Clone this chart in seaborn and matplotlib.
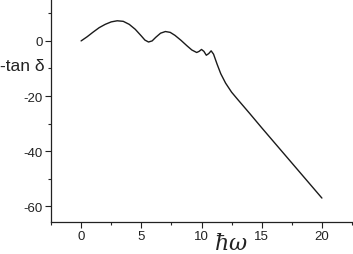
import matplotlib
matplotlib.use("Agg")
import matplotlib.pyplot as plt
import seaborn as sns
import pandas as pd

omega = [0, 0.5, 1, 1.5, 2, 2.5, 3, 3.5, 4, 4.5, 5, 5.3, 5.6, 5.9, 6.2, 6.6,
         7.0, 7.4, 7.8, 8.3, 8.8, 9.2, 9.6, 9.8, 10.0, 10.2, 10.4, 10.6, 10.8,
         11.0, 11.3, 11.6, 12.0, 12.5, 13, 14, 15, 16, 17, 18, 19, 20]
neg_tan = [0, 1.5, 3.2, 4.8, 6.0, 6.9, 7.3, 7.1, 6.0, 4.2, 1.8, 0.3, -0.4, 0.0,
           1.3, 2.8, 3.4, 3.1, 2.0, 0.2, -1.8, -3.3, -4.2, -3.8, -3.1, -3.8,
           -5.2, -4.6, -3.6, -4.8, -8.5, -11.9, -15.3, -18.6, -21.2, -26.3,
           -31.5, -36.6, -41.7, -46.8, -51.9, -57.0]
xticks = [0, 5, 10, 15, 20]
yticks = [0, -20, -40, -60]

df = pd.DataFrame({"w": omega, "t": neg_tan})

sns.set_style("ticks")
plt.rcParams['font.family'] = ['Liberation Sans', 'DejaVu Sans']
plt.rcParams['mathtext.fontset'] = 'dejavuserif'

fig = plt.figure(figsize=(3.53, 2.55), dpi=100)
ax = fig.add_axes([51/353, 1 - 222.5/255, 301/353, 222.5/255])
sns.lineplot(data=df, x="w", y="t", sort=False, color="#1a1a1a", linewidth=1.0, ax=ax)

ax.set_xlim(-2.5, 22.5)
ax.set_ylim(-65.5, 15.2)
ax.set_xticks(xticks)
ax.set_yticks(yticks)
ax.set_xticks([-2.5, 2.5, 7.5, 12.5, 17.5, 22.5], minor=True)
ax.set_yticks([10, -10, -30, -50], minor=True)
ax.set_xticklabels([str(v) for v in xticks])
ax.set_yticklabels([str(v) for v in yticks])
ax.tick_params(which='major', direction='out', length=4, width=0.8, labelsize=9.5, pad=2, colors='#222222')
ax.tick_params(which='minor', direction='out', length=2.5, width=0.8)
for s in ['top', 'right']:
    ax.spines[s].set_visible(False)
for s in ['left', 'bottom']:
    ax.spines[s].set_linewidth(0.9)
    ax.spines[s].set_color('#222222')
ax.set_xlabel("")
ax.set_ylabel("")
ax.text(-0.095, 0.703, "-tan δ", transform=ax.transAxes, ha='center', va='center',
        fontsize=12.5, color='#222222')
ax.text(0.597, -0.1, r"$\hbar\omega$", transform=ax.transAxes, ha='center', va='center',
        fontsize=16, color='#222222')
fig.savefig("out.png", dpi=100)
